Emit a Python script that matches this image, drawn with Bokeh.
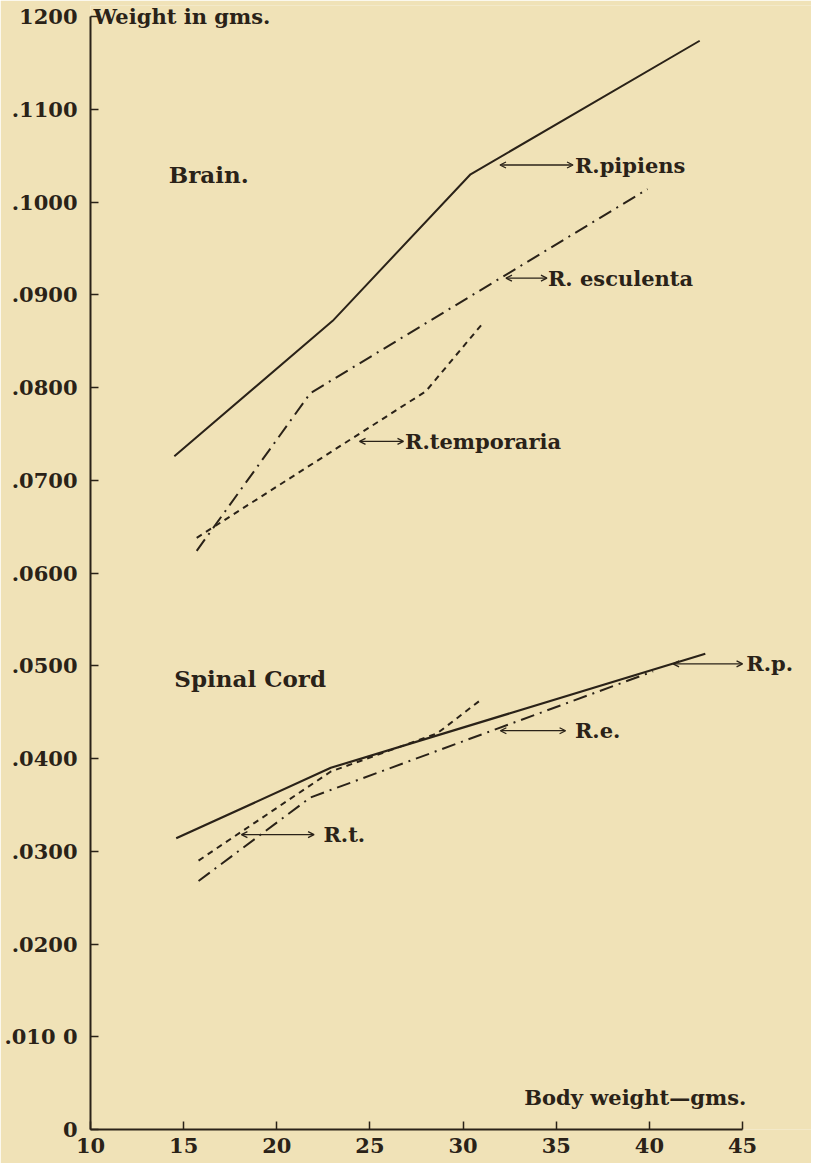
from bokeh.plotting import figure
from bokeh.models import Label, Arrow, OpenHead, FixedTicker, CustomJSTickFormatter, Range1d
from bokeh.embed import file_html
from bokeh.resources import INLINE

# ---- data (body weight in gms, organ weight in gms) ----
pip_brain_x = [14.5, 23.0, 30.4, 42.7]
pip_brain_y = [0.0726, 0.0872, 0.1030, 0.1174]
esc_brain_x = [15.7, 21.8, 39.9]
esc_brain_y = [0.0624, 0.0794, 0.1014]
tem_brain_x = [15.7, 28.0, 31.0]
tem_brain_y = [0.0638, 0.0796, 0.0868]

pip_cord_x = [14.6, 22.9, 43.0]
pip_cord_y = [0.0314, 0.0390, 0.0513]
esc_cord_x = [15.8, 21.8, 40.2]
esc_cord_y = [0.0268, 0.0358, 0.0494]
tem_cord_x = [15.8, 22.9, 28.6, 31.0]
tem_cord_y = [0.0290, 0.0386, 0.0427, 0.0464]

x_ticks = [10, 15, 20, 25, 30, 35, 40, 45]
y_ticks = [0, 0.01, 0.02, 0.03, 0.04, 0.05, 0.06, 0.07, 0.08, 0.09, 0.10, 0.11, 0.12]
y_tick_labels = ["0", ".010 0", ".0200", ".0300", ".0400", ".0500", ".0600",
                 ".0700", ".0800", ".0900", ".1000", ".1100", "1200"]

INK = "#2a2218"
BG = "#f0e2b7"
FONT = "DejaVu Serif"

p = figure(width=811, height=1163, output_backend="svg", toolbar_location=None,
           x_range=Range1d(10, 48.7), y_range=Range1d(0, 0.1212),
           min_border_left=90, min_border_right=0, min_border_top=5, min_border_bottom=34)
p.background_fill_color = BG
p.border_fill_color = BG
p.outline_line_color = None
p.grid.visible = False

for ax in (p.xaxis[0], p.yaxis[0]):
    ax.axis_line_color = INK
    ax.axis_line_width = 2
    ax.major_tick_line_color = INK
    ax.major_tick_line_width = 1.5
    ax.major_tick_in = 8
    ax.major_tick_out = 0
    ax.minor_tick_line_color = None
    ax.major_label_text_color = INK
    ax.major_label_text_font = FONT
    ax.major_label_text_font_style = "bold"
    ax.major_label_text_font_size = "21px"

p.xaxis.ticker = FixedTicker(ticks=x_ticks)
p.xaxis.bounds = (10, 45)
p.xaxis.major_label_standoff = 8

p.yaxis.ticker = FixedTicker(ticks=y_ticks)
p.yaxis.bounds = (0, 0.12)
p.yaxis.major_label_standoff = 13
p.yaxis.formatter = CustomJSTickFormatter(args=dict(labels=y_tick_labels),
                                          code="return labels[Math.round(tick*100)];")

# ---- lines ----
p.line(pip_brain_x, pip_brain_y, line_color=INK, line_width=2)
p.line(esc_brain_x, esc_brain_y, line_color=INK, line_width=2, line_dash="14 6 2 6")
p.line(tem_brain_x, tem_brain_y, line_color=INK, line_width=2, line_dash="6 5")

p.line(pip_cord_x, pip_cord_y, line_color=INK, line_width=2.2)
p.line(esc_cord_x, esc_cord_y, line_color=INK, line_width=2, line_dash="14 6 2 6")
p.line(tem_cord_x, tem_cord_y, line_color=INK, line_width=2, line_dash="6 5")

# ---- texts ----
def label(x, y, text, size="21px", align="left", style="bold", x_off=0):
    p.add_layout(Label(x=x, y=y, text=text, text_font=FONT, text_font_size=size,
                       text_font_style=style, text_color=INK, text_align=align,
                       text_baseline="middle", x_offset=x_off))

def arrow(x0, x1, y):
    p.add_layout(Arrow(x_start=x0, y_start=y, x_end=x1, y_end=y,
                       start=OpenHead(size=6, line_color=INK, line_width=1.3),
                       end=OpenHead(size=6, line_color=INK, line_width=1.3),
                       line_color=INK, line_width=1.3))

label(10, 0.12, "Weight in gms.", size="21px", x_off=3)
label(45.2, 0.0035, "Body weight\u2014gms.", size="21px", align="right")
label(14.2, 0.1030, "Brain.", size="23px")
label(14.5, 0.0486, "Spinal Cord", size="23px")

arrow(31.98, 35.9, 0.1040)
label(36.0, 0.1040, "R.pipiens")
arrow(32.3, 34.5, 0.0918)
label(34.55, 0.0918, "R. esculenta")
arrow(24.44, 26.8, 0.0742)
label(26.88, 0.0742, "R.temporaria")

arrow(41.27, 45.0, 0.0502)
label(45.2, 0.0502, "R.p.")
arrow(32.0, 35.5, 0.0430)
label(36.0, 0.0430, "R.e.")
arrow(18.1, 22.0, 0.0318)
label(22.5, 0.0318, "R.t.")

open("out.html", "w").write(file_html(p, INLINE))
